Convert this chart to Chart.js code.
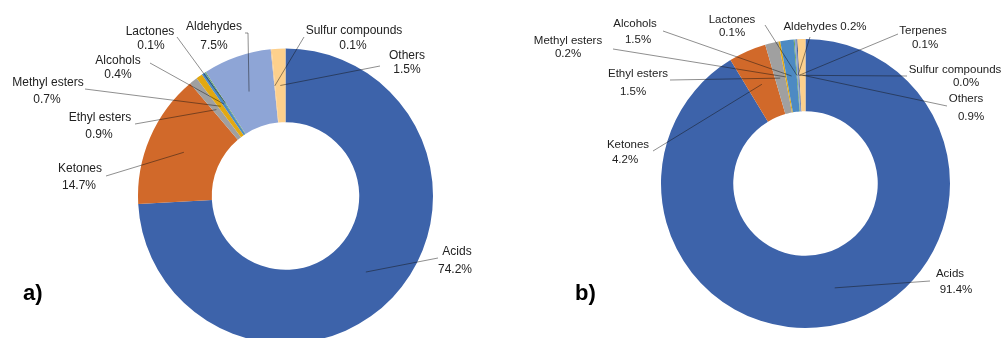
<!DOCTYPE html>
<html><head><meta charset="utf-8">
<script src="https://cdn.jsdelivr.net/npm/chart.js@4/dist/chart.umd.min.js"></script>
<style>
html,body{margin:0;padding:0;width:1002px;height:338px;overflow:hidden;background:#fff}
#ca{position:absolute;left:0;top:0}
#cb{position:absolute;left:501px;top:0}
</style></head><body>
<canvas id="ca" width="501" height="350"></canvas>
<canvas id="cb" width="501" height="338"></canvas>
<script>
// ---- data ----
const categoriesA = ['Acids','Ketones','Ethyl esters','Methyl esters','Alcohols','Lactones','Aldehydes','Sulfur compounds','Others'];
const valuesA = [74.2,14.7,0.9,0.7,0.4,0.1,7.5,0.1,1.5];
const categoriesB = ['Acids','Ketones','Ethyl esters','Methyl esters','Alcohols','Lactones','Aldehydes','Terpenes','Sulfur compounds','Others'];
const valuesB = [91.4,4.2,1.5,0.2,1.5,0.1,0.2,0.1,0.0,0.9];
const panelTitles = ['a)','b)'];

// ---- styles ----
const colorMap = {
  'Acids':'#3D63AA','Ketones':'#D1692A','Ethyl esters':'#A0A0A0','Methyl esters':'#E2A811',
  'Alcohols':'#4D8AC3','Lactones':'#5E9E47','Aldehydes':'#8EA5D6','Terpenes':'#2E4A86',
  'Sulfur compounds':'#F2C48C','Others':'#FDD08C'
};
// label layout (page pixel coords): text positions and leader start points
const layoutA = [
 {t:[457,252,455,270], from:[[438,258]]},
 {t:[80,169,79,186], from:[[106,176]]},
 {t:[100,118,99,135], from:[[135,124]]},
 {t:[48,83,47,100], from:[[85,89]]},
 {t:[118,61,118,75], from:[[150,63]]},
 {t:[150,32,151,46], from:[[177,37]]},
 {t:[214,27,214,46], from:[[245,33],[248,33]]},
 {t:[354,31,353,46], from:[[304,37]]},
 {t:[407,56,407,70], from:[[380,66]]}
];
const layoutB = [
 {t:[950,274,956,290], from:[[930,281]]},
 {t:[628,145,625,160], from:[[653,151]]},
 {t:[638,74,633,92], from:[[670,80]]},
 {t:[568,41,568,54], from:[[613,49]]},
 {t:[635,24,638,40], from:[[663,31]]},
 {t:[732,20,732,33], from:[[765,25]]},
 {t:[825,27], from:[[810,37]]},
 {t:[923,31,925,45], from:[[898,34]]},
 {t:[955,70,966,83], from:[[907,76]]},
 {t:[966,99,971,117], from:[[947,106]]}
];

function labelPlugin(layout, offX, fontPx, title, titlePos){
  return {
    id:'leaders',
    afterDatasetsDraw(chart){
      const ctx = chart.ctx;
      const meta = chart.getDatasetMeta(0);
      const labels = chart.data.labels, vals = chart.data.datasets[0].data;
      ctx.save();
      meta.data.forEach((arc,i)=>{
        const L = layout[i]; if(!L) return;
        const p = arc.getProps(['x','y','startAngle','endAngle','innerRadius','outerRadius'], true);
        const a = (p.startAngle+p.endAngle)/2, r = (p.innerRadius+p.outerRadius)/2;
        const ex = p.x + r*Math.cos(a), ey = p.y + r*Math.sin(a);
        ctx.beginPath();
        ctx.moveTo(L.from[0][0]-offX, L.from[0][1]);
        for(let k=1;k<L.from.length;k++) ctx.lineTo(L.from[k][0]-offX, L.from[k][1]);
        ctx.lineTo(ex, ey);
        ctx.strokeStyle='rgba(20,20,20,0.6)'; ctx.lineWidth=0.8; ctx.stroke();
        ctx.fillStyle='#222'; ctx.font = fontPx+'px "Liberation Sans", Arial, sans-serif';
        ctx.textAlign='center'; ctx.textBaseline='middle';
        const pct = Number(vals[i]).toFixed(1)+'%';
        if(L.t.length>2){
          ctx.fillText(labels[i], L.t[0]-offX, L.t[1]);
          ctx.fillText(pct, L.t[2]-offX, L.t[3]);
        } else {
          ctx.fillText(labels[i]+' '+pct, L.t[0]-offX, L.t[1]);
        }
      });
      ctx.font='bold 22px "Liberation Sans", Arial, sans-serif';
      ctx.fillStyle='#000'; ctx.textAlign='left'; ctx.textBaseline='alphabetic';
      ctx.fillText(title, titlePos[0]-offX, titlePos[1]);
      ctx.restore();
    }
  };
}

function makeChart(id, cats, vals, layout, offX, pad, fontPx, title, titlePos){
  return new Chart(document.getElementById(id), {
    type:'doughnut',
    data:{labels:cats, datasets:[{data:vals, backgroundColor:cats.map(c=>colorMap[c]), borderWidth:0}]},
    options:{
      responsive:false, animation:false, devicePixelRatio:1, cutout:'50%',
      layout:{padding:pad},
      events:[],
      plugins:{legend:{display:false}, tooltip:{enabled:false}}
    },
    plugins:[labelPlugin(layout, offX, fontPx, title, titlePos)]
  });
}
makeChart('ca', categoriesA, valuesA, layoutA, 0, {left:138, top:48.5, right:68, bottom:6.5}, 12, panelTitles[0], [23,300]);
makeChart('cb', categoriesB, valuesB, layoutB, 501, {left:160, top:39, right:52, bottom:10}, 11.5, panelTitles[1], [575,300]);
</script>
</body></html>
